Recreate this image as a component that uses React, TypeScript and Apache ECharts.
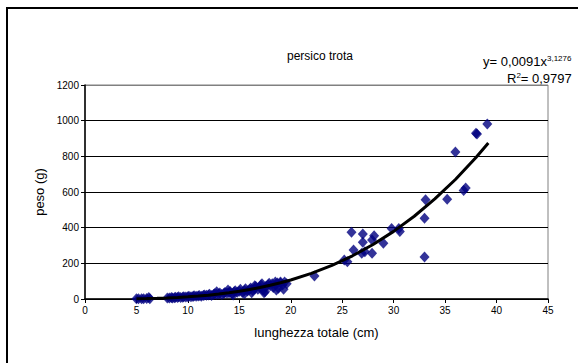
import React, { useEffect, useRef } from "react";
import * as echarts from "echarts";

// Observed fish: [total length (cm), weight (g)]
const lengths: number[] = [
  5.0, 5.2, 5.5, 5.7, 6.0, 6.2, 6.3,
  8.0, 8.2, 8.4, 8.5, 8.7, 8.8, 9.0, 9.1, 9.3, 9.5, 9.6, 9.8,
  10.0, 10.1, 10.3, 10.5, 10.6, 10.8, 11.0, 11.1, 11.3, 11.5, 11.6, 11.8,
  12.0, 12.1, 12.3, 12.5, 12.6, 12.8, 13.0, 13.1, 13.3, 13.5, 13.6, 13.8,
  14.0, 14.1, 14.3, 14.5, 14.6, 14.8, 15.0, 15.1, 15.3, 15.5, 15.6, 15.8,
  16.0, 16.1, 16.3, 16.5, 16.6, 16.8, 17.0, 17.1, 17.3, 17.5, 17.6, 17.8,
  18.0, 18.2, 18.3, 18.5, 18.7, 18.8, 19.0, 19.2, 19.4, 19.6,
  15.5, 16.2, 16.5, 17.2, 17.4, 17.9, 18.5, 18.6, 19.0, 19.3, 12.8, 13.9, 14.4,
  22.3, 25.2, 25.5, 25.9, 26.1, 27.0, 27.0, 26.9, 27.2, 27.9, 28.1, 27.9,
  29.0, 29.8, 30.5, 30.6, 33.0, 33.0, 33.1, 35.2, 36.0, 36.8, 37.0, 38.0, 38.1, 39.1,
];
const weights: number[] = [
  1, 1.3, 1.8, 2, 3, 8, 2,
  5, 6, 8, 5, 7, 10, 8, 12, 9, 10, 13, 11,
  12, 15, 13, 14, 18, 16, 17, 20, 15, 19, 22, 21,
  22, 26, 20, 25, 30, 27, 28, 33, 25, 31, 36, 34,
  35, 42, 30, 40, 46, 38, 44, 55, 36, 48, 58, 45,
  53, 62, 48, 58, 70, 55, 64, 78, 50, 40, 72, 80,
  75, 85, 65, 82, 90, 60, 88, 78, 95, 85,
  30, 35, 75, 85, 35, 88, 95, 50, 95, 55, 40, 50, 22,
  129, 219, 209, 374, 275, 364, 318, 256, 265, 256, 355, 331,
  312, 396, 396, 378, 236, 453, 557, 560, 825, 608, 623, 930, 925, 981,
];

// Power trend line y = 0,0091 x^3,1276 as drawn
const trendX: number[] = [5, 6, 7, 8, 9, 10, 11, 12, 13, 14, 15, 16, 17, 18, 19, 20, 22, 24, 26, 28, 30, 32, 34, 36, 38, 39.2];
const trendY: number[] = [1.4, 2.5, 4.0, 6.1, 8.8, 12.2, 16.4, 21.6, 27.7, 35.0, 43.4, 53.1, 64.2, 76.7, 90.9, 106.7, 143.8, 188.7, 242.4, 305.6, 379.2, 464, 561, 670, 794, 875];

const xTicks = { min: 0, max: 45, interval: 5 };
const yTicks = { min: 0, max: 1200, interval: 200 };

const titleText = "persico trota";
const equationText = "y= 0,0091x{sup|3,1276}";
const r2Text = "R{sup|2}= 0,9797";
const xName = "lunghezza totale (cm)";
const yName = "peso (g)";

export default function App() {
  const ref = useRef<HTMLDivElement>(null);
  useEffect(() => {
    if (!ref.current) return;
    const chart = echarts.init(ref.current, undefined, { renderer: "svg" });
    const font = "Liberation Sans, Arial, sans-serif";
    const supStyle = { fontSize: 8, verticalAlign: "top", padding: [0, 0, 6, 0], fontFamily: font, fill: "#000" };
    chart.setOption({
      animation: false,
      backgroundColor: "#ffffff",
      textStyle: { fontFamily: font, color: "#000" },
      grid: {
        left: 85,
        right: 30,
        top: 85,
        bottom: 64,
        show: true,
        borderColor: "#808080",
        borderWidth: 1,
        backgroundColor: "transparent",
      },
      title: {
        text: titleText,
        left: 315,
        top: 45,
        textAlign: "center",
        textStyle: { fontFamily: font, fontSize: 12, fontWeight: "normal", color: "#000" },
      },
      graphic: [
        {
          type: "rect",
          shape: { x: 7, y: 8, width: 700, height: 500 },
          style: { fill: "none", stroke: "#000", lineWidth: 2 },
          silent: true,
        },
        {
          type: "text",
          x: 483,
          y: 54,
          style: { text: equationText, fontFamily: font, fontSize: 13, fill: "#000", rich: { sup: supStyle } },
        },
        {
          type: "text",
          x: 507,
          y: 71,
          style: { text: r2Text, fontFamily: font, fontSize: 13, fill: "#000", rich: { sup: supStyle } },
        },
      ],
      xAxis: {
        type: "value",
        min: xTicks.min,
        max: xTicks.max,
        interval: xTicks.interval,
        name: xName,
        nameLocation: "middle",
        nameGap: 27,
        nameTextStyle: { fontFamily: font, fontSize: 13, color: "#000" },
        axisLine: { show: true, onZero: false, lineStyle: { color: "#000", width: 1.5 } },
        axisTick: { show: true, inside: false, length: 4, lineStyle: { color: "#000" } },
        axisLabel: { fontFamily: font, fontSize: 10, color: "#000", margin: 6 },
        splitLine: { show: false },
      },
      yAxis: {
        type: "value",
        min: yTicks.min,
        max: yTicks.max,
        interval: yTicks.interval,
        name: yName,
        nameLocation: "middle",
        nameGap: 36,
        nameTextStyle: { fontFamily: font, fontSize: 13, color: "#000" },
        axisLine: { show: true, lineStyle: { color: "#000", width: 1.5 } },
        axisTick: { show: true, inside: false, length: 4, lineStyle: { color: "#000" } },
        axisLabel: { fontFamily: font, fontSize: 10, color: "#000", margin: 6, formatter: (v: number) => String(v) },
        splitLine: {
          show: true,
          lineStyle: { color: ["#000", "#000", "#000", "#000", "#000", "#000", "#808080"], width: 1 },
        },
      },
      series: [
        {
          type: "scatter",
          symbol: "diamond",
          symbolSize: [10, 11],
          itemStyle: { color: "#000080" },
          data: lengths.map((l, i) => [l, weights[i]]),
          z: 2,
        },
        {
          type: "line",
          showSymbol: false,
          smooth: false,
          lineStyle: { color: "#000", width: 3 },
          data: trendX.map((x, i) => [x, trendY[i]]),
          z: 3,
        },
      ],
    });
    return () => chart.dispose();
  }, []);
  return (
    <div
      ref={ref}
      style={{ position: "absolute", left: 0, top: 0, width: 578, height: 363, background: "#fff" }}
    />
  );
}
